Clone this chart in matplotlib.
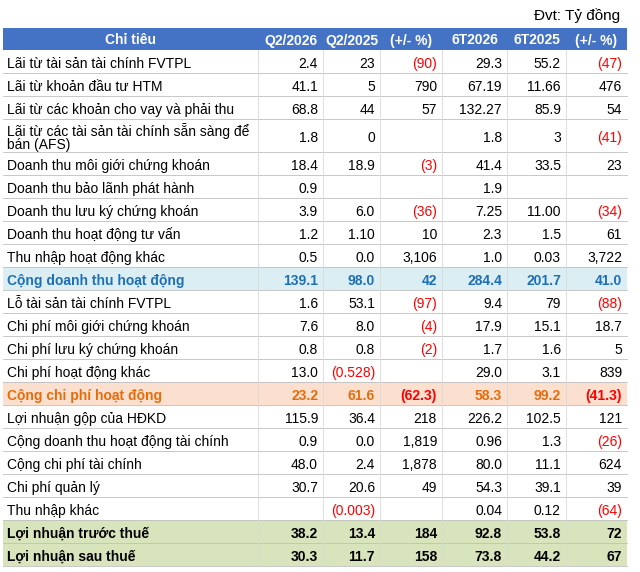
import matplotlib.pyplot as plt
from matplotlib.patches import Rectangle

plt.rcParams['font.family'] = ['Liberation Sans', 'DejaVu Sans']

headers = ["Chỉ tiêu", "Q2/2026", "Q2/2025", "(+/- %)", "6T2026", "6T2025", "(+/- %)"]
labels = [
    "Lãi từ tài sản tài chính FVTPL", "Lãi từ khoản đầu tư HTM",
    "Lãi từ các khoản cho vay và phải thu",
    "Lãi từ các tài sản tài chính sẵn sàng để\nbán (AFS)",
    "Doanh thu môi giới chứng khoán", "Doanh thu bảo lãnh phát hành",
    "Doanh thu lưu ký chứng khoán", "Doanh thu hoạt động tư vấn",
    "Thu nhập hoạt động khác", "Cộng doanh thu hoạt động",
    "Lỗ tài sản tài chính FVTPL", "Chi phí môi giới chứng khoán",
    "Chi phí lưu ký chứng khoán", "Chi phí hoạt động khác",
    "Cộng chi phí hoạt động", "Lợi nhuận gộp của HĐKD",
    "Cộng doanh thu hoạt động tài chính", "Cộng chi phí tài chính",
    "Chi phí quản lý", "Thu nhập khác",
    "Lợi nhuận trước thuế", "Lợi nhuận sau thuế",
]
q2_2026 = ["2.4", "41.1", "68.8", "1.8", "18.4", "0.9", "3.9", "1.2", "0.5", "139.1",
           "1.6", "7.6", "0.8", "13.0", "23.2", "115.9", "0.9", "48.0", "30.7", "", "38.2", "30.3"]
q2_2025 = ["23", "5", "44", "0", "18.9", "", "6.0", "1.10", "0.0", "98.0",
           "53.1", "8.0", "0.8", "(0.528)", "61.6", "36.4", "0.0", "2.4", "20.6", "(0.003)", "13.4", "11.7"]
chg_q = ["(90)", "790", "57", "", "(3)", "", "(36)", "10", "3,106", "42",
         "(97)", "(4)", "(2)", "", "(62.3)", "218", "1,819", "1,878", "49", "", "184", "158"]
h1_2026 = ["29.3", "67.19", "132.27", "1.8", "41.4", "1.9", "7.25", "2.3", "1.0", "284.4",
           "9.4", "17.9", "1.7", "29.0", "58.3", "226.2", "0.96", "80.0", "54.3", "0.04", "92.8", "73.8"]
h1_2025 = ["55.2", "11.66", "85.9", "3", "33.5", "", "11.00", "1.5", "0.03", "201.7",
           "79", "15.1", "1.6", "3.1", "99.2", "102.5", "1.3", "11.1", "39.1", "0.12", "53.8", "44.2"]
chg_h = ["(47)", "476", "54", "(41)", "23", "", "(34)", "61", "3,722", "41.0",
         "(88)", "18.7", "5", "839", "(41.3)", "121", "(26)", "624", "39", "(64)", "72", "67"]
columns = [q2_2026, q2_2025, chg_q, h1_2026, h1_2025, chg_h]

col_edges = [3, 258, 323, 380, 442, 507, 566, 627]
row_h = [23] * len(labels)
row_h[3] = 33

fig = plt.figure(figsize=(6.4, 5.72), dpi=100)
ax = fig.add_axes([0, 0, 1, 1])
ax.set_xlim(0, 640)
ax.set_ylim(572, 0)
ax.axis('off')

ax.text(620, 14, "Đvt: Tỷ đồng", ha='right', va='center_baseline', fontsize=11)

top = 28
ax.add_patch(Rectangle((col_edges[0], top), col_edges[-1] - col_edges[0], 22,
                       color='#4472c4', lw=0))
for i, h in enumerate(headers):
    x = (col_edges[i] + col_edges[i + 1]) / 2
    ax.text(x, top + 11, h, ha='center', va='center_baseline', color='white',
            fontsize=10, weight='bold')

y = top + 22
for r, lab in enumerate(labels):
    h = row_h[r]
    bg, fg, bold = None, 'black', False
    if lab == "Cộng doanh thu hoạt động":
        bg, fg, bold = '#daeef3', '#1f6fb4', True
    elif lab == "Cộng chi phí hoạt động":
        bg, fg, bold = '#fbe0cf', '#e46c0a', True
    elif lab.startswith("Lợi nhuận") and "thuế" in lab:
        bg, fg, bold = '#d8e4bc', 'black', True
    if bg:
        ax.add_patch(Rectangle((col_edges[0], y), col_edges[-1] - col_edges[0], h, color=bg, lw=0))
    ax.plot([col_edges[0], col_edges[-1]], [y + h, y + h], color='#bfbfbf', lw=0.6)
    w = 'bold' if bold else 'normal'
    ax.text(col_edges[0] + 4, y + h / 2 + 1, lab, ha='left', va='center_baseline', fontsize=10,
            color=fg, weight=w, linespacing=0.95)
    for c, col in enumerate(columns):
        v = col[r]
        color = '#ff0000' if v.startswith('(') else fg
        ax.text(col_edges[c + 2] - 5, y + h / 2 + 1, v, ha='right', va='center_baseline',
                fontsize=10, color=color, weight=w)
    y += h

for x in col_edges[1:-1]:
    ax.plot([x, x], [top + 22, y], color='#d9d9d9', lw=0.6)

fig.savefig("out.png", dpi=100)
